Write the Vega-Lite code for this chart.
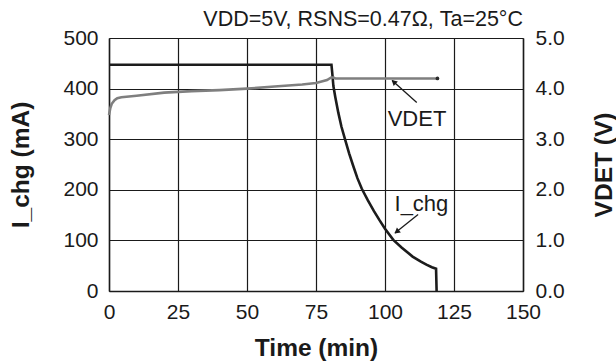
{
  "$schema": "https://vega.github.io/schema/vega-lite/v6.json",
  "width": 414,
  "height": 253,
  "autosize": {"type": "none"},
  "padding": {"left": 109, "top": 38, "right": 93, "bottom": 71},
  "background": "white",
  "title": {
    "text": "VDD=5V, RSNS=0.47Ω, Ta=25°C",
    "anchor": "end",
    "frame": "group",
    "fontSize": 21.5,
    "fontWeight": "normal",
    "font": "Liberation Sans",
    "color": "#1a1a1a",
    "offset": -3
  },
  "config": {
    "view": {"stroke": null},
    "font": "Liberation Sans",
    "axis": {
      "labelFont": "Liberation Sans",
      "titleFont": "Liberation Sans",
      "labelColor": "#1a1a1a",
      "titleColor": "#1a1a1a",
      "labelFontSize": 21,
      "titleFontSize": 24.5,
      "titleFontWeight": "bold",
      "ticks": false,
      "tickSize": 0,
      "domainColor": "#1a1a1a",
      "domainWidth": 1.5,
      "gridColor": "#1a1a1a",
      "gridOpacity": 1,
      "gridWidth": 1.2
    }
  },
  "datasets": {
    "ichg": [
      {"t": 0, "v": 447}, {"t": 80.6, "v": 447}, {"t": 80.9, "v": 430}, {"t": 81.3, "v": 405},
      {"t": 82, "v": 383}, {"t": 83.1, "v": 352}, {"t": 84.2, "v": 325}, {"t": 85.5, "v": 300},
      {"t": 87, "v": 272}, {"t": 88.5, "v": 247}, {"t": 90, "v": 223}, {"t": 91.6, "v": 202},
      {"t": 93.8, "v": 179}, {"t": 96, "v": 158}, {"t": 98, "v": 140}, {"t": 100, "v": 123},
      {"t": 103, "v": 101}, {"t": 106, "v": 86}, {"t": 110, "v": 68}, {"t": 113, "v": 58},
      {"t": 115, "v": 52}, {"t": 117, "v": 47}, {"t": 118.5, "v": 44}, {"t": 118.7, "v": 0}
    ],
    "vdet": [
      {"t": 0, "v": 3.48}, {"t": 0.5, "v": 3.62}, {"t": 1, "v": 3.7}, {"t": 2, "v": 3.77},
      {"t": 3, "v": 3.81}, {"t": 4.5, "v": 3.83}, {"t": 10, "v": 3.86}, {"t": 20, "v": 3.92},
      {"t": 30, "v": 3.95}, {"t": 40, "v": 3.97}, {"t": 50, "v": 4.0}, {"t": 60, "v": 4.04},
      {"t": 70, "v": 4.08}, {"t": 75, "v": 4.11}, {"t": 79, "v": 4.17}, {"t": 80.5, "v": 4.22},
      {"t": 81.3, "v": 4.22}, {"t": 82, "v": 4.2}, {"t": 119, "v": 4.2}
    ],
    "vdetEnd": [{"t": 119, "v": 4.2}],
    "notes": [
      {"t": 111.6, "v": 326.7, "label": "VDET"},
      {"t": 113.2, "v": 158.7, "label": "I_chg"}
    ],
    "arrows": [
      {"name": "VDET", "t": 111.5, "v": 372.7, "t2": 102.6, "v2": 416},
      {"name": "I_chg", "t": 112, "v": 151, "t2": 103.6, "v2": 114.6}
    ],
    "heads": [
      {"name": "VDET", "t": 103.4, "v": 412},
      {"name": "I_chg", "t": 104.5, "v": 118.3}
    ]
  },
  "layer": [
    {
      "layer": [
        {
          "data": {"name": "ichg"},
          "mark": {"type": "line", "color": "#1c1c1c", "strokeWidth": 2.6, "interpolate": "linear"},
          "encoding": {
            "x": {
              "field": "t", "type": "quantitative",
              "scale": {"domain": [0, 150], "nice": false},
              "axis": {
                "values": [0, 25, 50, 75, 100, 125, 150],
                "grid": true,
                "labelPadding": 10,
                "labelFlush": false,
                "title": "Time (min)",
                "titleX": 207,
                "titleY": 64,
                "titleBaseline": "alphabetic",
                "titleAlign": "center"
              }
            },
            "y": {
              "field": "v", "type": "quantitative",
              "scale": {"domain": [0, 500], "nice": false},
              "axis": {
                "values": [0, 100, 200, 300, 400, 500],
                "grid": true,
                "labelPadding": 11,
                "title": "I_chg (mA)",
                "titleAngle": 270,
                "titleX": -81,
                "titleY": 126.5,
                "titleAlign": "center",
                "titleBaseline": "alphabetic"
              }
            }
          }
        },
        {
          "data": {"name": "arrows"},
          "mark": {"type": "rule", "color": "#1a1a1a", "strokeWidth": 1.3},
          "encoding": {
            "x": {"field": "t", "type": "quantitative"},
            "y": {"field": "v", "type": "quantitative"},
            "x2": {"field": "t2"},
            "y2": {"field": "v2"}
          }
        },
        {
          "data": {"name": "heads"},
          "transform": [{"filter": "datum.name === 'VDET'"}],
          "mark": {"type": "point", "shape": "triangle", "filled": true, "color": "#1a1a1a", "size": 40, "angle": 312, "opacity": 1},
          "encoding": {
            "x": {"field": "t", "type": "quantitative"},
            "y": {"field": "v", "type": "quantitative"}
          }
        },
        {
          "data": {"name": "heads"},
          "transform": [{"filter": "datum.name === 'I_chg'"}],
          "mark": {"type": "point", "shape": "triangle", "filled": true, "color": "#1a1a1a", "size": 40, "angle": 232, "opacity": 1},
          "encoding": {
            "x": {"field": "t", "type": "quantitative"},
            "y": {"field": "v", "type": "quantitative"}
          }
        },
        {
          "data": {"name": "notes"},
          "mark": {"type": "text", "fontSize": 22, "color": "#1a1a1a", "align": "center", "baseline": "alphabetic", "font": "Liberation Sans"},
          "encoding": {
            "x": {"field": "t", "type": "quantitative"},
            "y": {"field": "v", "type": "quantitative"},
            "text": {"field": "label"}
          }
        }
      ]
    },
    {
      "layer": [
        {
          "data": {"name": "vdet"},
          "mark": {"type": "line", "color": "#7f7f7f", "strokeWidth": 2.6, "interpolate": "linear"},
          "encoding": {
            "x": {"field": "t", "type": "quantitative"},
            "y": {
              "field": "v", "type": "quantitative",
              "scale": {"domain": [0, 5], "nice": false},
              "axis": {
                "orient": "right",
                "values": [0, 1, 2, 3, 4, 5],
                "format": ".1f",
                "grid": false,
                "labelPadding": 12,
                "title": "VDET (V)",
                "titleAngle": 270,
                "titleX": 88,
                "titleY": 126.5,
                "titleAlign": "center",
                "titleBaseline": "alphabetic"
              }
            }
          }
        },
        {
          "data": {"name": "vdetEnd"},
          "mark": {"type": "point", "filled": true, "color": "#2a2a2a", "size": 14, "opacity": 1},
          "encoding": {
            "x": {"field": "t", "type": "quantitative"},
            "y": {"field": "v", "type": "quantitative"}
          }
        }
      ]
    }
  ],
  "resolve": {"scale": {"y": "independent"}}
}
